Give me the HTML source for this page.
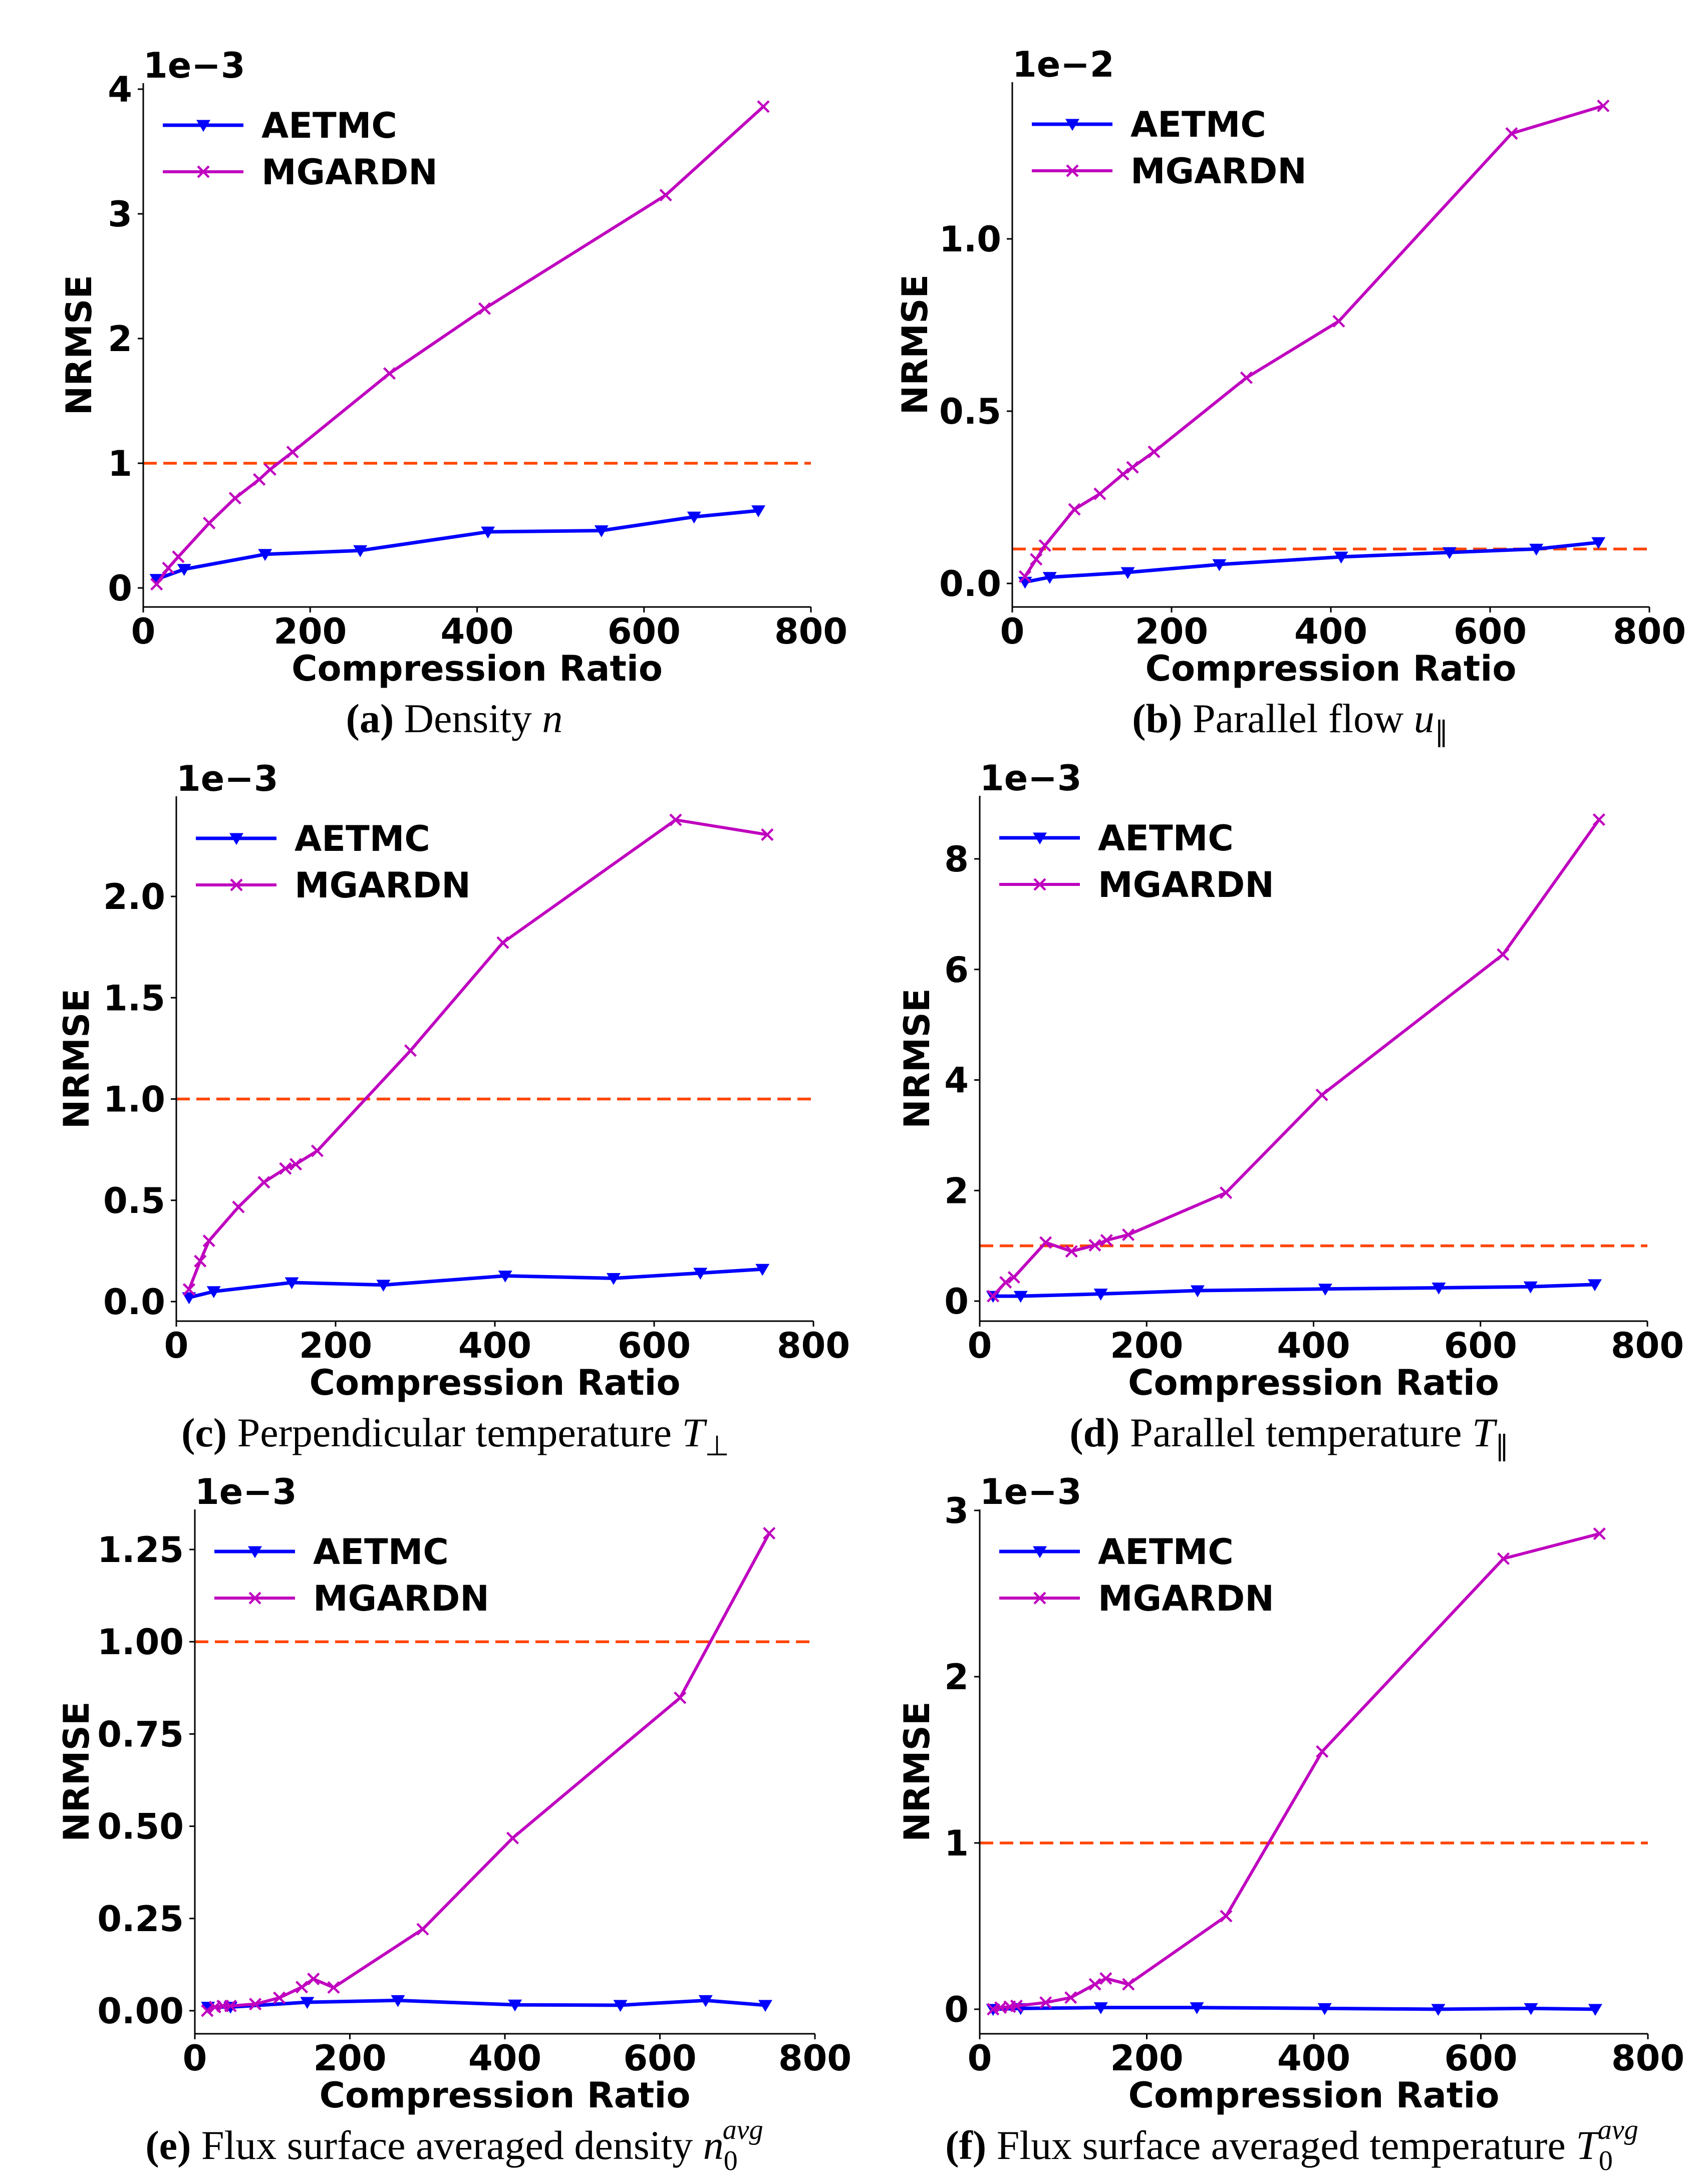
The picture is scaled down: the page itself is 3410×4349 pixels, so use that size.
<!DOCTYPE html>
<html><head><meta charset="utf-8"><style>
html,body{margin:0;padding:0;background:#fff;overflow:hidden}
svg{display:block}
.t{font-family:"DejaVu Sans","Liberation Sans",sans-serif;font-weight:bold;font-size:70px;fill:#000}
.cap{font-family:"Liberation Serif",serif;font-size:82px;fill:#000}
</style></head><body>
<svg id="fig" xmlns="http://www.w3.org/2000/svg" width="3410" height="4349" viewBox="0 0 3410 4349"></svg>
<script>
// ---- Data (x = compression ratio, y = NRMSE in units of exponent) ----
const aMgX=[16,30,42,79,110,139,152,179,295,409,626,743];
const aMgY=[0.03,0.16,0.25,0.52,0.72,0.87,0.95,1.09,1.72,2.24,3.15,3.86];
const aAeX=[16,49,146,260,413,549,660,737];
const aAeY=[0.07,0.15,0.27,0.30,0.45,0.46,0.57,0.62];
const aTicks=[0,1,2,3,4];
const aTickLabels=["0","1","2","3","4"];

const bMgX=[16,30,41,78,110,139,151,178,294,410,627,742];
const bMgY=[0.02,0.07,0.11,0.215,0.26,0.317,0.337,0.382,0.597,0.761,1.306,1.386];
const bAeX=[16,47,145,260,413,549,658,736];
const bAeY=[0.004,0.018,0.032,0.055,0.077,0.09,0.10,0.119];
const bTicks=[0,0.5,1.0];
const bTickLabels=["0.0","0.5","1.0"];

const cMgX=[16,30,41,78,110,137,150,177,294,410,627,742];
const cMgY=[0.06,0.20,0.30,0.467,0.589,0.657,0.678,0.744,1.239,1.772,2.378,2.305];
const cAeX=[16,47,145,260,413,549,658,736];
const cAeY=[0.02,0.05,0.094,0.082,0.127,0.115,0.141,0.16];
const cTicks=[0,0.5,1.0,1.5,2.0];
const cTickLabels=["0.0","0.5","1.0","1.5","2.0"];

const dMgX=[16,31,41,79,110,138,152,178,295,410,627,742];
const dMgY=[0.09,0.34,0.43,1.06,0.90,1.01,1.10,1.20,1.96,3.73,6.27,8.71];
const dAeX=[16,49,145,261,414,550,660,737];
const dAeY=[0.09,0.09,0.13,0.19,0.22,0.24,0.26,0.30];
const dTicks=[0,2,4,6,8];
const dTickLabels=["0","2","4","6","8"];

const eMgX=[16,26,36,46,78,109,138,153,179,294,410,626,741];
const eMgY=[0.0,0.01,0.013,0.013,0.018,0.035,0.064,0.086,0.063,0.221,0.468,0.848,1.294];
const eAeX=[17,46,145,262,413,549,659,736];
const eAeY=[0.01,0.01,0.023,0.028,0.016,0.015,0.028,0.015];
const eTicks=[0,0.25,0.5,0.75,1.0,1.25];
const eTickLabels=["0.00","0.25","0.50","0.75","1.00","1.25"];

const fMgX=[16,25,36,44,79,109,138,151,178,295,410,627,742];
const fMgY=[0.0,0.01,0.015,0.02,0.04,0.07,0.15,0.185,0.15,0.56,1.55,2.71,2.86];
const fAeX=[16,49,145,260,413,549,660,737];
const fAeY=[0.0,0.005,0.01,0.01,0.005,0.0,0.005,0.0];
const fTicks=[0,1,2,3];
const fTickLabels=["0","1","2","3"];

const xTicks=[0,200,400,600,800];
const xTickLabels=["0","200","400","600","800"];
const threshold=1.0;
const bThreshold=0.1;

// ---- Layout (pixels) ----
const panels=[
 {id:'a',L:286,R:1619,T:166,B:1212,v0:1174,v1:178,t1:4,exp:"1e\u22123",ylx:158,cx:907,mgX:aMgX,mgY:aMgY,aeX:aAeX,aeY:aAeY,ticks:aTicks,tl:aTickLabels,thr:threshold},
 {id:'b',L:2021,R:3293,T:164,B:1212,v0:1165,v1:477,t1:1.0,exp:"1e\u22122",ylx:1827,cx:2576,mgX:bMgX,mgY:bMgY,aeX:bAeX,aeY:bAeY,ticks:bTicks,tl:bTickLabels,thr:bThreshold},
 {id:'c',L:352,R:1624,T:1590,B:2638,v0:2599,v1:1790,t1:2.0,exp:"1e\u22123",ylx:153,cx:909,mgX:cMgX,mgY:cMgY,aeX:cAeX,aeY:cAeY,ticks:cTicks,tl:cTickLabels,thr:threshold},
 {id:'d',L:1956,R:3289,T:1589,B:2638,v0:2598,v1:1715,t1:8,exp:"1e\u22123",ylx:1831,cx:2574,mgX:dMgX,mgY:dMgY,aeX:dAeX,aeY:dAeY,ticks:dTicks,tl:dTickLabels,thr:threshold},
 {id:'e',L:389,R:1627,T:3014,B:4061,v0:4015,v1:3094,t1:1.25,exp:"1e\u22123",ylx:153,cx:907,mgX:eMgX,mgY:eMgY,aeX:eAeX,aeY:eAeY,ticks:eTicks,tl:eTickLabels,thr:threshold},
 {id:'f',L:1956,R:3290,T:3014,B:4061,v0:4012,v1:3016,t1:3,exp:"1e\u22123",ylx:1831,cx:2579,mgX:fMgX,mgY:fMgY,aeX:fAeX,aeY:fAeY,ticks:fTicks,tl:fTickLabels,thr:threshold}
];
const captions={
 a:'<tspan font-weight="bold">(a)</tspan> Density <tspan font-style="italic">n</tspan>',
 b:'<tspan font-weight="bold">(b)</tspan> Parallel flow <tspan font-style="italic">u</tspan><tspan font-size="56" dy="18">\u2225</tspan>',
 c:'<tspan font-weight="bold">(c)</tspan> Perpendicular temperature <tspan font-style="italic">T</tspan><tspan font-size="56" dy="18">\u22A5</tspan>',
 d:'<tspan font-weight="bold">(d)</tspan> Parallel temperature <tspan font-style="italic">T</tspan><tspan font-size="56" dy="18">\u2225</tspan>',
 e:'<tspan font-weight="bold">(e)</tspan> Flux surface averaged density <tspan font-style="italic">n</tspan><tspan font-size="56" dy="22">0</tspan><tspan font-size="56" font-style="italic" dx="-30" dy="-62">avg</tspan>',
 f:'<tspan font-weight="bold">(f)</tspan> Flux surface averaged temperature <tspan font-style="italic">T</tspan><tspan font-size="56" dy="22">0</tspan><tspan font-size="56" font-style="italic" dx="-30" dy="-62">avg</tspan>'
};
const NS="http://www.w3.org/2000/svg";
const svg=document.getElementById('fig');
function mk(tag,attrs,parent){const e=document.createElementNS(NS,tag);for(const k in attrs)e.setAttribute(k,attrs[k]);(parent||svg).appendChild(e);return e;}
function tri(g,x,y,s){return mk('path',{d:`M${x-s} ${y-s*0.75}L${x+s} ${y-s*0.75}L${x} ${y+s*0.95}Z`,fill:'#0000ff'},g);}
function cross(g,x,y,s){return mk('path',{d:`M${x-s} ${y-s}L${x+s} ${y+s}M${x-s} ${y+s}L${x+s} ${y-s}`,stroke:'#bf00bf','stroke-width':4.5,fill:'none'},g);}

panels.forEach(p=>{
  const g=mk('g',{});
  
  
  const sx=v=>p.L+(p.R-p.L)*v/800;
  const sy=v=>p.v0+(p.v1-p.v0)*v/p.t1;
  const th=mk('line',{x1:p.L,x2:p.R,y1:sy(p.thr),y2:sy(p.thr),stroke:'#ff4500','stroke-width':5.5,'stroke-dasharray':'27 13'},g);
  
  
  const sp=mk('path',{d:`M${p.L} ${p.T}L${p.L} ${p.B}L${p.R} ${p.B}`,stroke:'#000','stroke-width':3,fill:'none'},g);
  
  
  xTicks.forEach((v,i)=>{
    mk('line',{x1:sx(v),x2:sx(v),y1:p.B,y2:p.B+11,stroke:'#000','stroke-width':3},g);
    const t=mk('text',{x:sx(v),y:p.B+73,'text-anchor':'middle',class:'t'},g);
    t.textContent=xTickLabels[i];
    
    
  });
  p.ticks.forEach((v,i)=>{
    mk('line',{x1:p.L-11,x2:p.L,y1:sy(v),y2:sy(v),stroke:'#000','stroke-width':3},g);
    const t=mk('text',{x:p.L-22,y:sy(v)+25,'text-anchor':'end',class:'t'},g);
    t.textContent=p.tl[i];
    
    
  });
  const ex=mk('text',{x:p.L,y:p.T-11,class:'t'},g);ex.textContent=p.exp;
  
  
  const xl=mk('text',{x:(p.L+p.R)/2,y:p.B+147,'text-anchor':'middle',class:'t'},g);xl.textContent='Compression Ratio';
  
  
  const my=(p.T+p.B)/2;
  const yl=mk('text',{x:p.ylx,y:my,'text-anchor':'middle','dominant-baseline':'central',class:'t',transform:`rotate(-90 ${p.ylx} ${my})`},g);yl.textContent='NRMSE';
  
  
  const ae=mk('polyline',{points:p.aeX.map((x,i)=>sx(x)+','+sy(p.aeY[i])).join(' '),stroke:'#0000ff','stroke-width':7,fill:'none'},g);
  
  
  p.aeX.forEach((x,i)=>{const m=tri(g,sx(x),sy(p.aeY[i]),14);
    
    });
  const mg=mk('polyline',{points:p.mgX.map((x,i)=>sx(x)+','+sy(p.mgY[i])).join(' '),stroke:'#bf00bf','stroke-width':6,fill:'none'},g);
  
  
  p.mgX.forEach((x,i)=>{const m=cross(g,sx(x),sy(p.mgY[i]),11);
    
    });
  const lg=mk('g',{},g);
  
  
  const y1=p.T+84,y2=p.T+177;
  mk('line',{x1:p.L+39,x2:p.L+200,y1:y1,y2:y1,stroke:'#0000ff','stroke-width':7},lg);
  tri(lg,p.L+120,y1,14);
  const l1=mk('text',{x:p.L+236,y:y1+25,class:'t'},lg);l1.textContent='AETMC';
  
  
  mk('line',{x1:p.L+39,x2:p.L+200,y1:y2,y2:y2,stroke:'#bf00bf','stroke-width':6},lg);
  cross(lg,p.L+120,y2,11);
  const l2=mk('text',{x:p.L+236,y:y2+25,class:'t'},lg);l2.textContent='MGARDN';
  
  
  const c=mk('text',{x:p.cx,y:p.B+250,'text-anchor':'middle',class:'cap'},g);
  c.innerHTML=captions[p.id];
  
  
});
</script>
</body></html>
